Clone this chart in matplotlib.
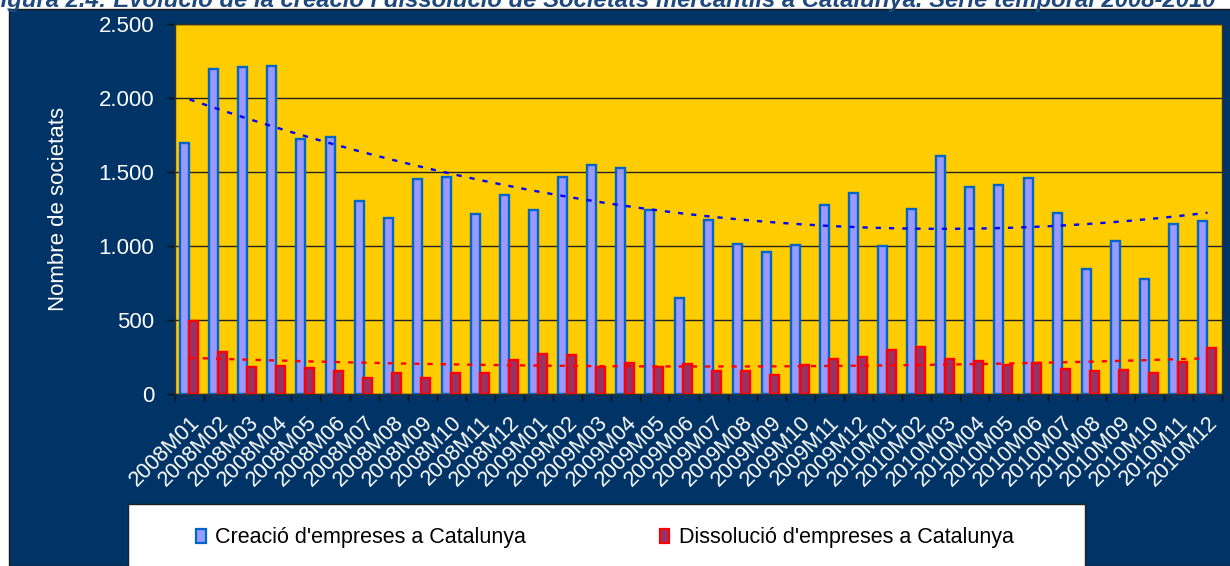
import numpy as np
import matplotlib
matplotlib.use("Agg")
import matplotlib.pyplot as plt
from matplotlib.patches import Rectangle, Patch
from matplotlib.ticker import FuncFormatter

plt.rcParams['font.family'] = ['Liberation Sans', 'DejaVu Sans']

# dades
mesos = [f"{a}M{m:02d}" for a in (2008, 2009, 2010) for m in range(1, 13)]
creacio = [1698, 2196, 2211, 2218, 1721, 1739, 1306, 1189, 1455, 1468, 1216, 1347,
           1245, 1466, 1547, 1527, 1241, 651, 1180, 1016, 964, 1009, 1275, 1360,
           1002, 1248, 1612, 1401, 1414, 1459, 1223, 844, 1034, 777, 1149, 1173]
dissolucio = [493, 288, 182, 189, 176, 158, 108, 144, 108, 144, 144, 230,
              275, 268, 182, 209, 182, 203, 160, 155, 128, 196, 241, 254,
              300, 320, 241, 227, 196, 214, 173, 155, 162, 142, 221, 313]
titol = ("Figura 2.4: Evolució de la creació i dissolució de Societats mercantils "
         "a Catalunya. Sèrie temporal 2008-2010")
ylabel = "Nombre de societats"
leg_labels = ["Creació d'empreses a Catalunya", "Dissolució d'empreses a Catalunya"]

W, H = 1230, 566
fig = plt.figure(figsize=(W / 100, H / 100), dpi=100, facecolor='white')

# fons blau fosc
fig.patches.append(Rectangle((9 / W, 0), 1, 1 - 9 / H, transform=fig.transFigure,
                             facecolor='#003366', edgecolor='#1a1a1a', lw=1, zorder=-10))

ax = fig.add_axes([175 / W, 1 - 394.3 / H, 1047 / W, (394.3 - 24) / H])
ax.set_facecolor('#FFCC00')

x = np.arange(len(mesos))
ax.bar(x - 0.17, creacio, width=0.31, color='#9999FF', edgecolor='#0066CC',
       lw=1.7, zorder=3)
ax.bar(x + 0.13, dissolucio, width=0.31, color='#993366', edgecolor='#FF0000',
       lw=1.7, zorder=4)

# línies de tendència (polinòmica)
pb = np.polyfit(x, creacio, 2)
pr = np.polyfit(x, dissolucio, 2)
xs = np.linspace(0, len(mesos) - 1, 200)
ax.plot(xs, np.polyval(pb, xs), color='#0000FF', lw=1.7, ls=(0, (2.2, 3.4)), zorder=5)
ax.plot(xs, np.polyval(pr, xs), color='#FF0000', lw=1.7, ls=(0, (2.2, 3.4)), zorder=5)

ax.set_xlim(-0.5, len(mesos) - 0.5)
ax.set_ylim(0, 2500)
ax.set_yticks(range(0, 2501, 500))
ax.yaxis.set_major_formatter(FuncFormatter(lambda v, p: f"{int(v):,}".replace(",", ".")))
ax.yaxis.grid(True, color='#222222', lw=1)
ax.set_axisbelow(True)
ax.tick_params(axis='y', colors='#111111', labelcolor='white', labelsize=16,
               length=6, width=1, pad=9)

ax.set_xticks(np.arange(-0.5, len(mesos), 1))
ax.set_xticklabels([])
ax.set_xticks(x, minor=True)
ax.set_xticklabels(mesos, minor=True, rotation=45, ha='right',
                   rotation_mode='anchor', color='white', fontsize=15.5)
ax.tick_params(axis='x', which='major', colors='#111111', length=5, width=1)
ax.tick_params(axis='x', which='minor', length=0, pad=13)

for s in ax.spines.values():
    s.set_color('#333333')
    s.set_linewidth(1)

fig.text(59 / W, 1 - 209 / H, ylabel, rotation=90, ha='center', va='center',
         color='white', fontsize=16)

fig.text(-14 / W, 1 - 7 / H, titol, ha='left', va='baseline', color='#1F497D',
         fontsize=17.2, fontweight='bold', fontstyle='italic')

# llegenda
fig.patches.append(Rectangle((128 / W, -0.1), (1085 - 128) / W, 0.1 + 1 - 504 / H,
                             transform=fig.transFigure, facecolor='white',
                             edgecolor='#222222', lw=1, zorder=1))
handles = [Patch(facecolor='#9999FF', edgecolor='#0066CC', lw=1.6),
           Patch(facecolor='#993366', edgecolor='#FF0000', lw=1.6)]
fig.legend(handles, leg_labels, loc='center left', ncol=2, frameon=False,
           bbox_to_anchor=(196 / W, 1 - 538 / H), borderaxespad=0, borderpad=0,
           handlelength=0.45, handleheight=0.6, handletextpad=0.45,
           columnspacing=6.2, fontsize=15.5, labelcolor='black')

fig.savefig('out.png', dpi=100, facecolor=fig.get_facecolor())
